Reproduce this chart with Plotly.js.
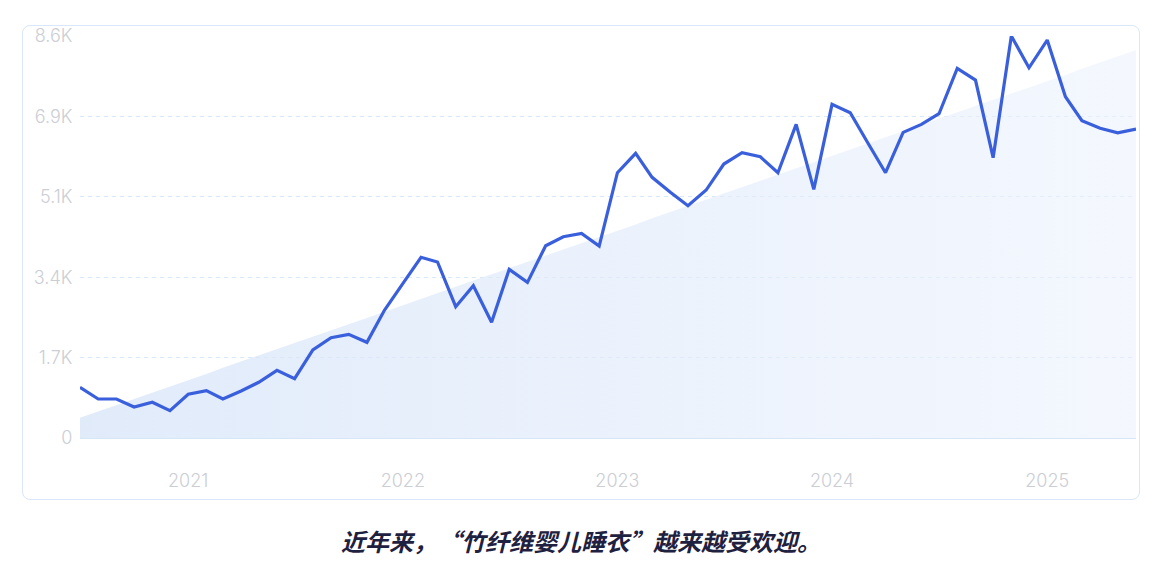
<!DOCTYPE html>
<html>
<head>
<meta charset="utf-8">
<script src="https://cdn.plot.ly/plotly-3.0.1.min.js"></script>
<style>
  html, body { margin: 0; padding: 0; background: #ffffff; }
  #wrap { position: relative; width: 1168px; height: 576px; }
  #card { position: absolute; left: 22px; top: 25px; width: 1118px; height: 475px;
          border: 1px solid #d9e6fb; border-radius: 8px; box-sizing: border-box; }
  #chart { position: absolute; left: 0; top: 0; width: 1168px; height: 576px; }
</style>
</head>
<body>
<div id="wrap">
  <div id="card"></div>
  <div id="chart"></div>
</div>
<script>
// Monthly values, Jul 2020 – Jun 2025
const months = [];
(function () {
  let y = 2020, m = 7;
  for (let i = 0; i < 60; i++) {
    months.push(y + '-' + String(m).padStart(2, '0') + '-01');
    m++; if (m > 12) { m = 1; y++; }
  }
})();

const values2020 = [1082, 832, 832, 662, 762, 583];
const values2021 = [933, 1010, 832, 1003, 1189, 1445, 1265, 1878, 2140, 2213, 2042, 2732];
const values2022 = [3293, 3856, 3756, 2802, 3250, 2469, 3600, 3322, 4104, 4296, 4368, 4097];
const values2023 = [5662, 6075, 5563, 5243, 4957, 5292, 5847, 6088, 6003, 5662, 6694, 5307];
const values2024 = [7121, 6942, 6317, 5662, 6523, 6694, 6921, 7889, 7640, 5982, 8580, 7902];
const values2025 = [8493, 7284, 6771, 6609, 6515, 6594];
const values = [].concat(values2020, values2021, values2022, values2023, values2024, values2025);

const yMax = 8580;
const yTickVals = [0, 1716, 3432, 5148, 6864, 8580];
const yTickText = ['0', '1.7K', '3.4K', '5.1K', '6.9K', '8.6K'];
const caption = '近年来，“竹纤维婴儿睡衣”越来越受欢迎。';

// least-squares trend over the series
const n = values.length;
let sx = 0, sy = 0, sxx = 0, sxy = 0;
values.forEach((v, i) => { sx += i; sy += v; sxx += i * i; sxy += i * v; });
const slope = (n * sxy - sx * sy) / (n * sxx - sx * sx);
const icpt = (sy - slope * sx) / n;
const trend = values.map((v, i) => icpt + slope * i);

const tickFont = { family: 'Inter, "Noto Sans", sans-serif', color: '#cbced5', size: 18, weight: 300 };

const traces = [
  {
    x: months, y: trend, type: 'scatter', mode: 'lines',
    line: { width: 0, color: 'rgba(0,0,0,0)' },
    fill: 'tozeroy',
    fillgradient: { type: 'horizontal',
      colorscale: [[0, 'rgba(214,228,248,0.75)'], [1, 'rgba(236,242,253,0.6)']] },
    hoverinfo: 'skip', showlegend: false
  },
  {
    x: months, y: values, type: 'scatter', mode: 'lines',
    line: { color: '#3a5fdc', width: 3.2 },
    showlegend: false
  }
];

const layout = {
  width: 1168, height: 576,
  margin: { l: 80, r: 32, t: 36, b: 138 },
  paper_bgcolor: 'rgba(0,0,0,0)', plot_bgcolor: 'rgba(0,0,0,0)',
  font: tickFont,
  xaxis: {
    type: 'date',
    range: [months[0], months[n - 1]],
    tick0: '2021-01-01', dtick: 'M12', tickformat: '%Y',
    showgrid: false, zeroline: false,
    showline: true, linecolor: '#d6e6f8', linewidth: 1,
    ticks: 'outside', ticklen: 26, tickcolor: 'rgba(0,0,0,0)',
    tickfont: tickFont
  },
  yaxis: {
    range: [0, yMax],
    tickmode: 'array', tickvals: yTickVals, ticktext: yTickText,
    showgrid: true, gridcolor: '#d9e8f7', griddash: '4px,4px', gridwidth: 1,
    zeroline: false, showline: false,
    ticks: 'outside', ticklen: 3, tickcolor: 'rgba(0,0,0,0)',
    tickfont: tickFont
  },
  annotations: [{
    xref: 'paper', yref: 'paper', x: 0.474, y: -0.255,
    xanchor: 'center', yanchor: 'middle', showarrow: false,
    text: caption,
    font: { family: '"Noto Sans CJK SC", sans-serif', size: 24, color: '#1f2140',
            weight: 'bold', style: 'italic' }
  }]
};

Plotly.newPlot('chart', traces, layout, { displayModeBar: false, staticPlot: true });
</script>
</body>
</html>
